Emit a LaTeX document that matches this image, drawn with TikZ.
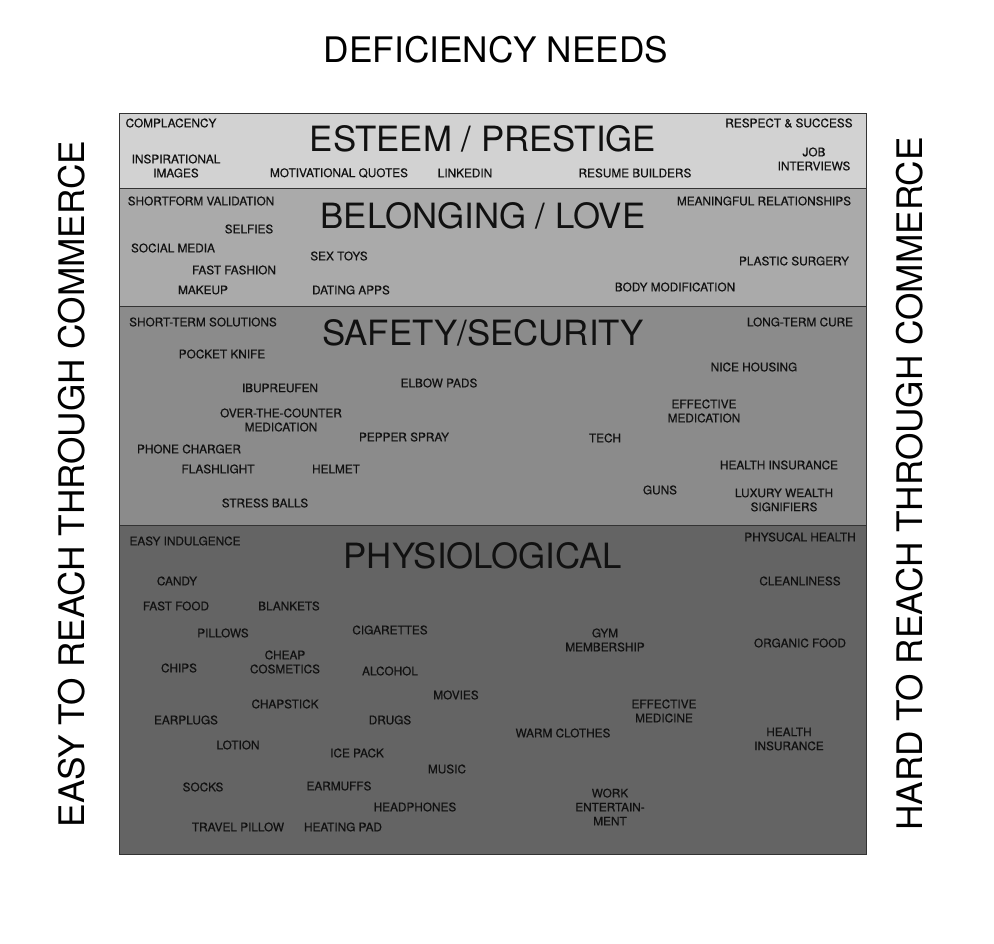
\documentclass[tikz,border=0pt]{standalone}
\usepackage{fontspec}
\setmainfont{TeX Gyre Heros}
\newfontfamily\labelfont[FakeBold=0.5]{TeX Gyre Heros}
\definecolor{esteemfill}{HTML}{D2D2D2}
\definecolor{lovefill}{HTML}{AAAAAA}
\definecolor{safefill}{HTML}{8B8B8B}
\definecolor{bodyfill}{HTML}{646464}
\definecolor{frame}{HTML}{333333}
\definecolor{ink}{HTML}{111111}

\begin{document}
\begin{tikzpicture}[
  x=1pt, y=-1pt,
  band/.style={draw=frame, line width=1pt},
  item/.style={align=center, inner sep=0pt, text=ink,
    font=\labelfont\fontsize{11.8}{14}\selectfont},
  level/.style={inner sep=0pt, text=ink, font=\fontsize{34.8}{38}\selectfont},
  axis/.style={inner sep=0pt, text=black, font=\fontsize{35.2}{38}\selectfont}
]
  \useasboundingbox (0,0) rectangle (994,944);

  % bands, top to bottom
  \filldraw[band, fill=esteemfill] (119,114) rectangle (866,189);
  \filldraw[band, fill=lovefill] (119,189) rectangle (866,307);
  \filldraw[band, fill=safefill] (119,307) rectangle (866,525);
  \filldraw[band, fill=bodyfill] (119,525) rectangle (866,854);

  % axis titles
  \node[axis] (deficiency) at (496,50) {DEFICIENCY NEEDS};
  \node[axis, rotate=90] (easy) at (72,484) {EASY TO REACH THROUGH COMMERCE};
  \node[axis, rotate=90] (hard) at (910,484) {HARD TO REACH THROUGH COMMERCE};

  % esteem / prestige
  \node[level] (esteem) at (483,139) {ESTEEM / PRESTIGE};
  \node[item] (complacency) at (171,123) {COMPLACENCY};
  \node[item] (respect) at (789,123) {RESPECT \& SUCCESS};
  \node[item] (inspiration) at (176,166) {INSPIRATIONAL\\IMAGES};
  \node[item] (quotes) at (339,173) {MOTIVATIONAL QUOTES};
  \node[item] (linkedin) at (465,173) {LINKEDIN};
  \node[item] (resume) at (635,173) {RESUME BUILDERS};
  \node[item] (interviews) at (814,159) {JOB\\INTERVIEWS};

  % belonging / love
  \node[level] (belonging) at (483,216) {BELONGING / LOVE};
  \node[item] (shortform) at (201,201) {SHORTFORM VALIDATION};
  \node[item] (relations) at (764,201) {MEANINGFUL RELATIONSHIPS};
  \node[item] (selfies) at (249,229) {SELFIES};
  \node[item] (social) at (173,248) {SOCIAL MEDIA};
  \node[item] (sextoys) at (339,256) {SEX TOYS};
  \node[item] (plastic) at (794,261) {PLASTIC SURGERY};
  \node[item] (fashion) at (234,270) {FAST FASHION};
  \node[item] (makeup) at (203,290) {MAKEUP};
  \node[item] (dating) at (351,290) {DATING APPS};
  \node[item] (bodymod) at (675,287) {BODY MODIFICATION};

  % safety / security
  \node[level] (safety) at (483,333) {SAFETY/SECURITY};
  \node[item] (shortterm) at (203,322) {SHORT-TERM SOLUTIONS};
  \node[item] (longterm) at (800,322) {LONG-TERM CURE};
  \node[item] (knife) at (222,354) {POCKET KNIFE};
  \node[item] (housing) at (754,367) {NICE HOUSING};
  \node[item] (ibuprofen) at (280,388) {IBUPREUFEN};
  \node[item] (elbow) at (439,383) {ELBOW PADS};
  \node[item] (medication) at (704,411) {EFFECTIVE\\MEDICATION};
  \node[item] (otc) at (281,420) {OVER-THE-COUNTER\\MEDICATION};
  \node[item] (pepper) at (404,437) {PEPPER SPRAY};
  \node[item] (tech) at (605,438) {TECH};
  \node[item] (charger) at (189,449) {PHONE CHARGER};
  \node[item] (insurance) at (779,465) {HEALTH INSURANCE};
  \node[item] (flashlight) at (218,469) {FLASHLIGHT};
  \node[item] (helmet) at (336,469) {HELMET};
  \node[item] (guns) at (660,490) {GUNS};
  \node[item] (luxury) at (784,500) {LUXURY WEALTH\\SIGNIFIERS};
  \node[item] (stress) at (265,503) {STRESS BALLS};

  % physiological
  \node[level] (physio) at (483,556) {PHYSIOLOGICAL};
  \node[item] (indulgence) at (185,541) {EASY INDULGENCE};
  \node[item] (physical) at (800,537) {PHYSUCAL HEALTH};
  \node[item] (candy) at (177,581) {CANDY};
  \node[item] (clean) at (800,581) {CLEANLINESS};
  \node[item] (fastfood) at (176,606) {FAST FOOD};
  \node[item] (blankets) at (289,606) {BLANKETS};
  \node[item] (pillows) at (223,633) {PILLOWS};
  \node[item] (cigarettes) at (390,630) {CIGARETTES};
  \node[item] (gym) at (605,640) {GYM\\MEMBERSHIP};
  \node[item] (organic) at (800,643) {ORGANIC FOOD};
  \node[item] (cosmetics) at (285,662) {CHEAP\\COSMETICS};
  \node[item] (chips) at (179,668) {CHIPS};
  \node[item] (alcohol) at (390,671) {ALCOHOL};
  \node[item] (movies) at (456,695) {MOVIES};
  \node[item] (chapstick) at (285,704) {CHAPSTICK};
  \node[item] (medicine) at (664,711) {EFFECTIVE\\MEDICINE};
  \node[item] (earplugs) at (186,720) {EARPLUGS};
  \node[item] (drugs) at (390,720) {DRUGS};
  \node[item] (clothes) at (563,733) {WARM CLOTHES};
  \node[item] (healthins) at (789,739) {HEALTH\\INSURANCE};
  \node[item] (lotion) at (238,745) {LOTION};
  \node[item] (icepack) at (357,753) {ICE PACK};
  \node[item] (music) at (447,769) {MUSIC};
  \node[item] (socks) at (203,787) {SOCKS};
  \node[item] (earmuffs) at (339,786) {EARMUFFS};
  \node[item] (work) at (610,807) {WORK\\ENTERTAIN-\\MENT};
  \node[item] (headphones) at (415,807) {HEADPHONES};
  \node[item] (travel) at (238,827) {TRAVEL PILLOW};
  \node[item] (heating) at (343,827) {HEATING PAD};
\end{tikzpicture}
\end{document}
